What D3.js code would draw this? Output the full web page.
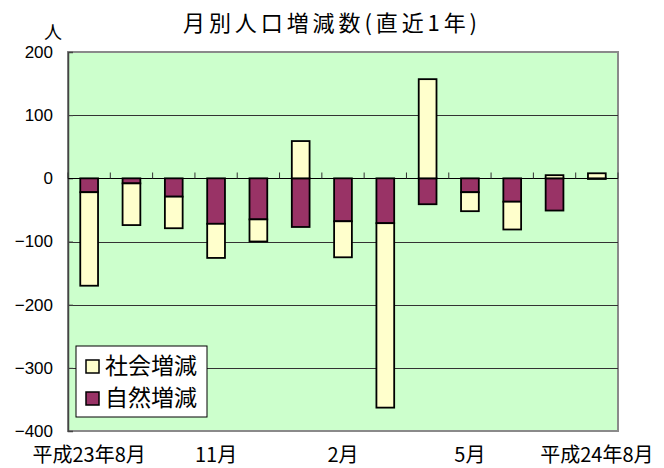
<!DOCTYPE html>
<html>
<head>
<meta charset="utf-8" />
<style>
    body { margin: 0; background: #fff; }
    text { font-family: "Noto Sans CJK JP", sans-serif; fill: #000; }
    .tick text { font-family: "Liberation Sans", Arial, sans-serif; font-size: 17px; }
</style>
</head>
<body>
<svg width="664" height="468"></svg>
<script src="https://d3js.org/d3.v7.min.js"></script>
<script>
    // months, H23/8 .. H24/8
    var months = ["平成23年8月", "9月", "10月", "11月", "12月", "平成24年1月", "2月", "3月", "4月", "5月", "6月", "7月", "平成24年8月"];
    var natural = [-22, -8, -29, -72, -65, -77, -68, -71, -41, -22, -37, -51, -1];   // 自然増減
    var social = [-148, -66, -50, -54, -35, 59, -57, -292, 157, -30, -44, 5, 8];       // 社会増減
    var yTicks = [200, 100, 0, -100, -200, -300, -400];
    var labelIdx = [0, 3, 6, 9, 12];
    var labelText = ["平成23年8月", "11月", "2月", "5月", "平成24年8月"];
    var keys = ["natural", "social"];
    var names = { natural: "自然増減", social: "社会増減" };
    var colors = { natural: "#993366", social: "#FFFFCC" };

    var svg = d3.select("svg");
    var margin = { top: 52, left: 68, right: 46, bottom: 37 };
    var width = 664 - margin.left - margin.right,
        height = 468 - margin.top - margin.bottom;

    var rows = months.map(function (m, i) { return { month: m, natural: natural[i], social: social[i] }; });

    var x = d3.scaleBand().domain(months).range([0, width]).paddingInner(0.58).paddingOuter(0.29);
    var y = d3.scaleLinear().domain([-400, 200]).range([height, 0]);

    var g = svg.append("g").attr("transform", "translate(" + margin.left + "," + margin.top + ")");

    // plot area
    g.append("rect").attr("width", width).attr("height", height)
        .attr("fill", "#CCFFCC").attr("stroke", "#8a8a8a").attr("stroke-width", 2);

    // grid
    g.selectAll(".grid").data([100, -100, -200, -300]).enter().append("line")
        .attr("x1", 0).attr("x2", width)
        .attr("y1", function (d) { return Math.round(y(d)) + 0.5; })
        .attr("y2", function (d) { return Math.round(y(d)) + 0.5; })
        .attr("stroke", "#333").attr("stroke-width", 1.2);

    // y axis
    var yAxis = g.append("g").call(d3.axisLeft(y).tickValues(yTicks).tickSize(-5).tickPadding(15));
    yAxis.select(".domain").attr("stroke", "#444").attr("stroke-width", 1.5);
    yAxis.selectAll(".tick line").attr("stroke", "#444");

    // bars
    var series = d3.stack().keys(keys).offset(d3.stackOffsetDiverging)(rows);
    g.selectAll(".serie").data(series).enter().append("g")
        .attr("fill", function (d) { return colors[d.key]; })
        .selectAll("rect").data(function (d) { return d; }).enter().append("rect")
        .attr("x", function (d) { return x(d.data.month); })
        .attr("width", x.bandwidth())
        .attr("y", function (d) { return y(Math.max(d[0], d[1])); })
        .attr("height", function (d) { return Math.abs(y(d[0]) - y(d[1])); })
        .attr("stroke", "#000").attr("stroke-width", 1.8);

    // zero line and category ticks
    var y0 = Math.round(y(0)) + 0.5;
    g.append("line").attr("x1", 0).attr("x2", width).attr("y1", y0).attr("y2", y0)
        .attr("stroke", "#000").attr("stroke-width", 1.2);
    g.selectAll(".ctick").data(d3.range(months.length + 1)).enter().append("line")
        .attr("x1", function (i) { return i * x.step(); })
        .attr("x2", function (i) { return i * x.step(); })
        .attr("y1", y0 - 6).attr("y2", y0)
        .attr("stroke", "#333").attr("stroke-width", 1);

    // x labels
    g.selectAll(".xl").data(labelIdx).enter().append("text")
        .attr("x", function (i) { return x(months[i]) + x.bandwidth() / 2; })
        .attr("y", height + 31)
        .attr("text-anchor", "middle")
        .style("font-size", "20px")
        .text(function (i, k) { return labelText[k]; });

    // title and unit
    svg.append("text").attr("x", 330).attr("y", 31).attr("text-anchor", "middle")
        .attr("textLength", 294).attr("lengthAdjust", "spacing")
        .style("font-size", "22px").text("月別人口増減数(直近1年)");
    svg.append("text").attr("x", 53).attr("y", 39).attr("text-anchor", "middle")
        .style("font-size", "18px").text("人");

    // legend
    var legend = g.append("g").attr("transform", "translate(8,294)");
    legend.append("rect").attr("width", 131).attr("height", 71)
        .attr("fill", "#fff").attr("stroke", "#000").attr("stroke-width", 1);
    var item = legend.selectAll(".item").data(["social", "natural"]).enter().append("g")
        .attr("transform", function (d, i) { return "translate(10," + (20 + i * 32) + ")"; });
    item.append("rect").attr("x", 0).attr("y", -6).attr("width", 13).attr("height", 13)
        .attr("fill", function (d) { return colors[d]; }).attr("stroke", "#000").attr("stroke-width", 1.5);
    item.append("text").attr("x", 19).attr("y", 8).style("font-size", "23px")
        .text(function (d) { return names[d]; });
</script>
</body>
</html>
